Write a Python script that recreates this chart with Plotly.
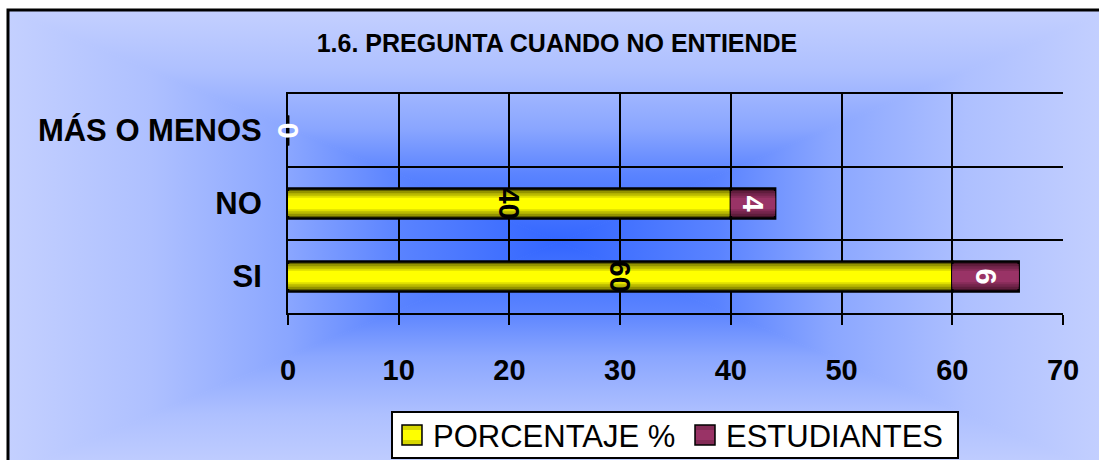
import base64

import plotly.graph_objects as go

# ── Data ──────────────────────────────────────────────────────────────────────
CATEGORIAS  = ["SI", "NO", "MÁS O MENOS"]
PORCENTAJE  = [60, 40, 0]
ESTUDIANTES = [6, 4, 0]
X_TICKS     = [0, 10, 20, 30, 40, 50, 60, 70]
TITULO      = "1.6. PREGUNTA CUANDO NO ENTIENDE"

# ── Geometry (pixels) ─────────────────────────────────────────────────────────
W, H = 1099, 460
L, R, T, B = 288, 36, 94, 147
PW, PH = W - L - R, H - T - B
FONT = "Arial, 'Liberation Sans', sans-serif"


def px_x(px):
    return (px - L) / PW


def px_y(py):
    return (H - B - py) / PH


def mix(c1, c2, f):
    a = [int(c1[i:i + 2], 16) for i in (1, 3, 5)]
    b = [int(c2[i:i + 2], 16) for i in (1, 3, 5)]
    return "#" + "".join(f"{round(x + (y - x) * f):02x}" for x, y in zip(a, b))


# ── Background: rectangular "from center" gradient as an SVG image ───────────
BX0, BY0, BX1, BY1 = 8, 10, 1110, 475
CX, CY = 559, 242
bw, bh = BX1 - BX0, BY1 - BY0
cx, cy = CX - BX0, CY - BY0
stops = [(0, "#C4D0FF"), (0.26, "#AEC0FF"), (0.51, "#8AA6FF"),
         (0.71, "#5A83FF"), (1, "#3366FF")]
stop_xml = "".join(f'<stop offset="{o}" stop-color="{c}"/>' for o, c in stops)
grads = {
    "gt": (0, 0, 0, cy), "gb": (0, bh, 0, cy),
    "gl": (0, 0, cx, 0), "gr": (bw, 0, cx, 0),
}
defs = "".join(
    f'<linearGradient id="{k}" gradientUnits="userSpaceOnUse" '
    f'x1="{x1}" y1="{y1}" x2="{x2}" y2="{y2}">{stop_xml}</linearGradient>'
    for k, (x1, y1, x2, y2) in grads.items()
)
tris = {
    "gt": f"0,0 {bw},0 {cx},{cy}", "gb": f"0,{bh} {bw},{bh} {cx},{cy}",
    "gl": f"0,0 0,{bh} {cx},{cy}", "gr": f"{bw},0 {bw},{bh} {cx},{cy}",
}
polys = "".join(
    f'<polygon points="{p}" fill="url(#{k})" stroke="url(#{k})" stroke-width="1"/>'
    for k, p in tris.items()
)
svg = (f'<svg xmlns="http://www.w3.org/2000/svg" width="{bw}" height="{bh}" '
       f'viewBox="0 0 {bw} {bh}"><defs>{defs}</defs>{polys}</svg>')
bg_src = "data:image/svg+xml;base64," + base64.b64encode(svg.encode()).decode()

# ── Bars (layered to fake the cylinder shading) ───────────────────────────────
BAR_W = 0.41
FRACS = [1.0, 0.84, 0.68, 0.52, 0.38]
series = [
    ("PORCENTAJE %", PORCENTAJE, [0] * len(PORCENTAJE), "#FFFF00", "#5E5E00", "black"),
    ("ESTUDIANTES", ESTUDIANTES, PORCENTAJE, "#993366", "#421228", "white"),
]

fig = go.Figure()
for name, vals, base, c_in, c_out, txt_col in series:
    for i, f in enumerate(FRACS):
        k = i / (len(FRACS) - 1)
        w = BAR_W * f
        last = i == len(FRACS) - 1
        fig.add_trace(go.Bar(
            y=CATEGORIAS, x=vals, base=base, orientation="h", name=name,
            width=w, offset=-w / 2,
            marker=dict(color=mix(c_out, c_in, k ** 0.8),
                        line=dict(color="black", width=2.5 if i == 0 else 0)),
            text=[str(v) if v else "" for v in vals] if last else None,
            textposition="inside", insidetextanchor="middle",
            textangle=90, constraintext="none",
            textfont=dict(family=FONT, size=29, color=txt_col, weight="bold"),
            showlegend=False, hoverinfo="skip",
        ))

# zero values sit on the axis, Excel still prints them
for cat, p, e in zip(CATEGORIAS, PORCENTAJE, ESTUDIANTES):
    if e == 0:
        fig.add_annotation(x=p + e, y=cat, text=str(e), showarrow=False,
                           textangle=90,
                           font=dict(family=FONT, size=29, color="white", weight="bold"))

# ── Background image + outer frame ────────────────────────────────────────────
fig.add_layout_image(
    source=bg_src, xref="paper", yref="paper",
    x=px_x(BX0), y=px_y(BY0), sizex=bw / PW, sizey=bh / PH,
    xanchor="left", yanchor="top", sizing="stretch", layer="below",
)
fig.add_shape(type="rect", xref="paper", yref="paper",
              x0=px_x(BX0), x1=px_x(BX1), y0=px_y(BY1), y1=px_y(BY0),
              line=dict(color="black", width=3), layer="above")

# ── Legend box drawn Excel-style (plotly's own box is too tall here) ──────────
LEG_X0, LEG_X1, LEG_Y0, LEG_Y1 = 392, 958, 412, 458
fig.add_shape(type="rect", xref="paper", yref="paper",
              x0=px_x(LEG_X0), x1=px_x(LEG_X1), y0=px_y(LEG_Y1), y1=px_y(LEG_Y0),
              fillcolor="white", line=dict(color="black", width=2), layer="above")
for (name, _, _, c_in, c_out, _), sx in zip(series, [402, 695]):
    fig.add_shape(type="rect", xref="paper", yref="paper",
                  x0=px_x(sx), x1=px_x(sx + 20), y0=px_y(445), y1=px_y(425),
                  fillcolor=mix(c_out, c_in, 0.75),
                  line=dict(color="black", width=1.5), layer="above")
    fig.add_shape(type="rect", xref="paper", yref="paper",
                  x0=px_x(sx + 1), x1=px_x(sx + 19), y0=px_y(440), y1=px_y(430),
                  fillcolor=c_in, line=dict(width=0), layer="above")
    fig.add_annotation(xref="paper", yref="paper", x=px_x(sx + 29), y=px_y(436),
                       text=name, showarrow=False, xanchor="left", yanchor="middle",
                       font=dict(family=FONT, size=31, color="black"))

fig.update_layout(
    width=W, height=H,
    margin=dict(l=L, r=R, t=T, b=B, autoexpand=False),
    barmode="overlay", showlegend=False,
    paper_bgcolor="white", plot_bgcolor="rgba(0,0,0,0)",
    font=dict(family=FONT, color="black"),
    title=dict(text=f"<b>{TITULO}</b>", font=dict(size=25, family=FONT),
               xref="container", x=557 / W, xanchor="center",
               yref="container", y=1 - 43 / H, yanchor="middle"),
    xaxis=dict(range=[0, 70], tickvals=X_TICKS, showgrid=True,
               gridcolor="black", gridwidth=1.5, showline=True, mirror=True,
               linecolor="black", linewidth=2, ticks="outside", ticklen=10,
               tickwidth=2, tickcolor="black", zeroline=False,
               ticklabelstandoff=20, automargin=False,
               tickfont=dict(size=29, family=FONT, weight="bold")),
    yaxis=dict(type="category", categoryorder="array", categoryarray=CATEGORIAS,
               range=[-0.5, 2.5], tickson="boundaries", showgrid=True,
               gridcolor="black", gridwidth=1.5, showline=True,
               linecolor="black", linewidth=2, ticks="", ticklabelstandoff=18,
               automargin=False,
               tickfont=dict(size=31, family=FONT, weight="bold")),
)

# the page body has an 8px default margin; drop it so the figure sits at 0,0
fig.write_html("out.html", config={"displayModeBar": False},
               post_script="document.body.style.margin='0px';")
